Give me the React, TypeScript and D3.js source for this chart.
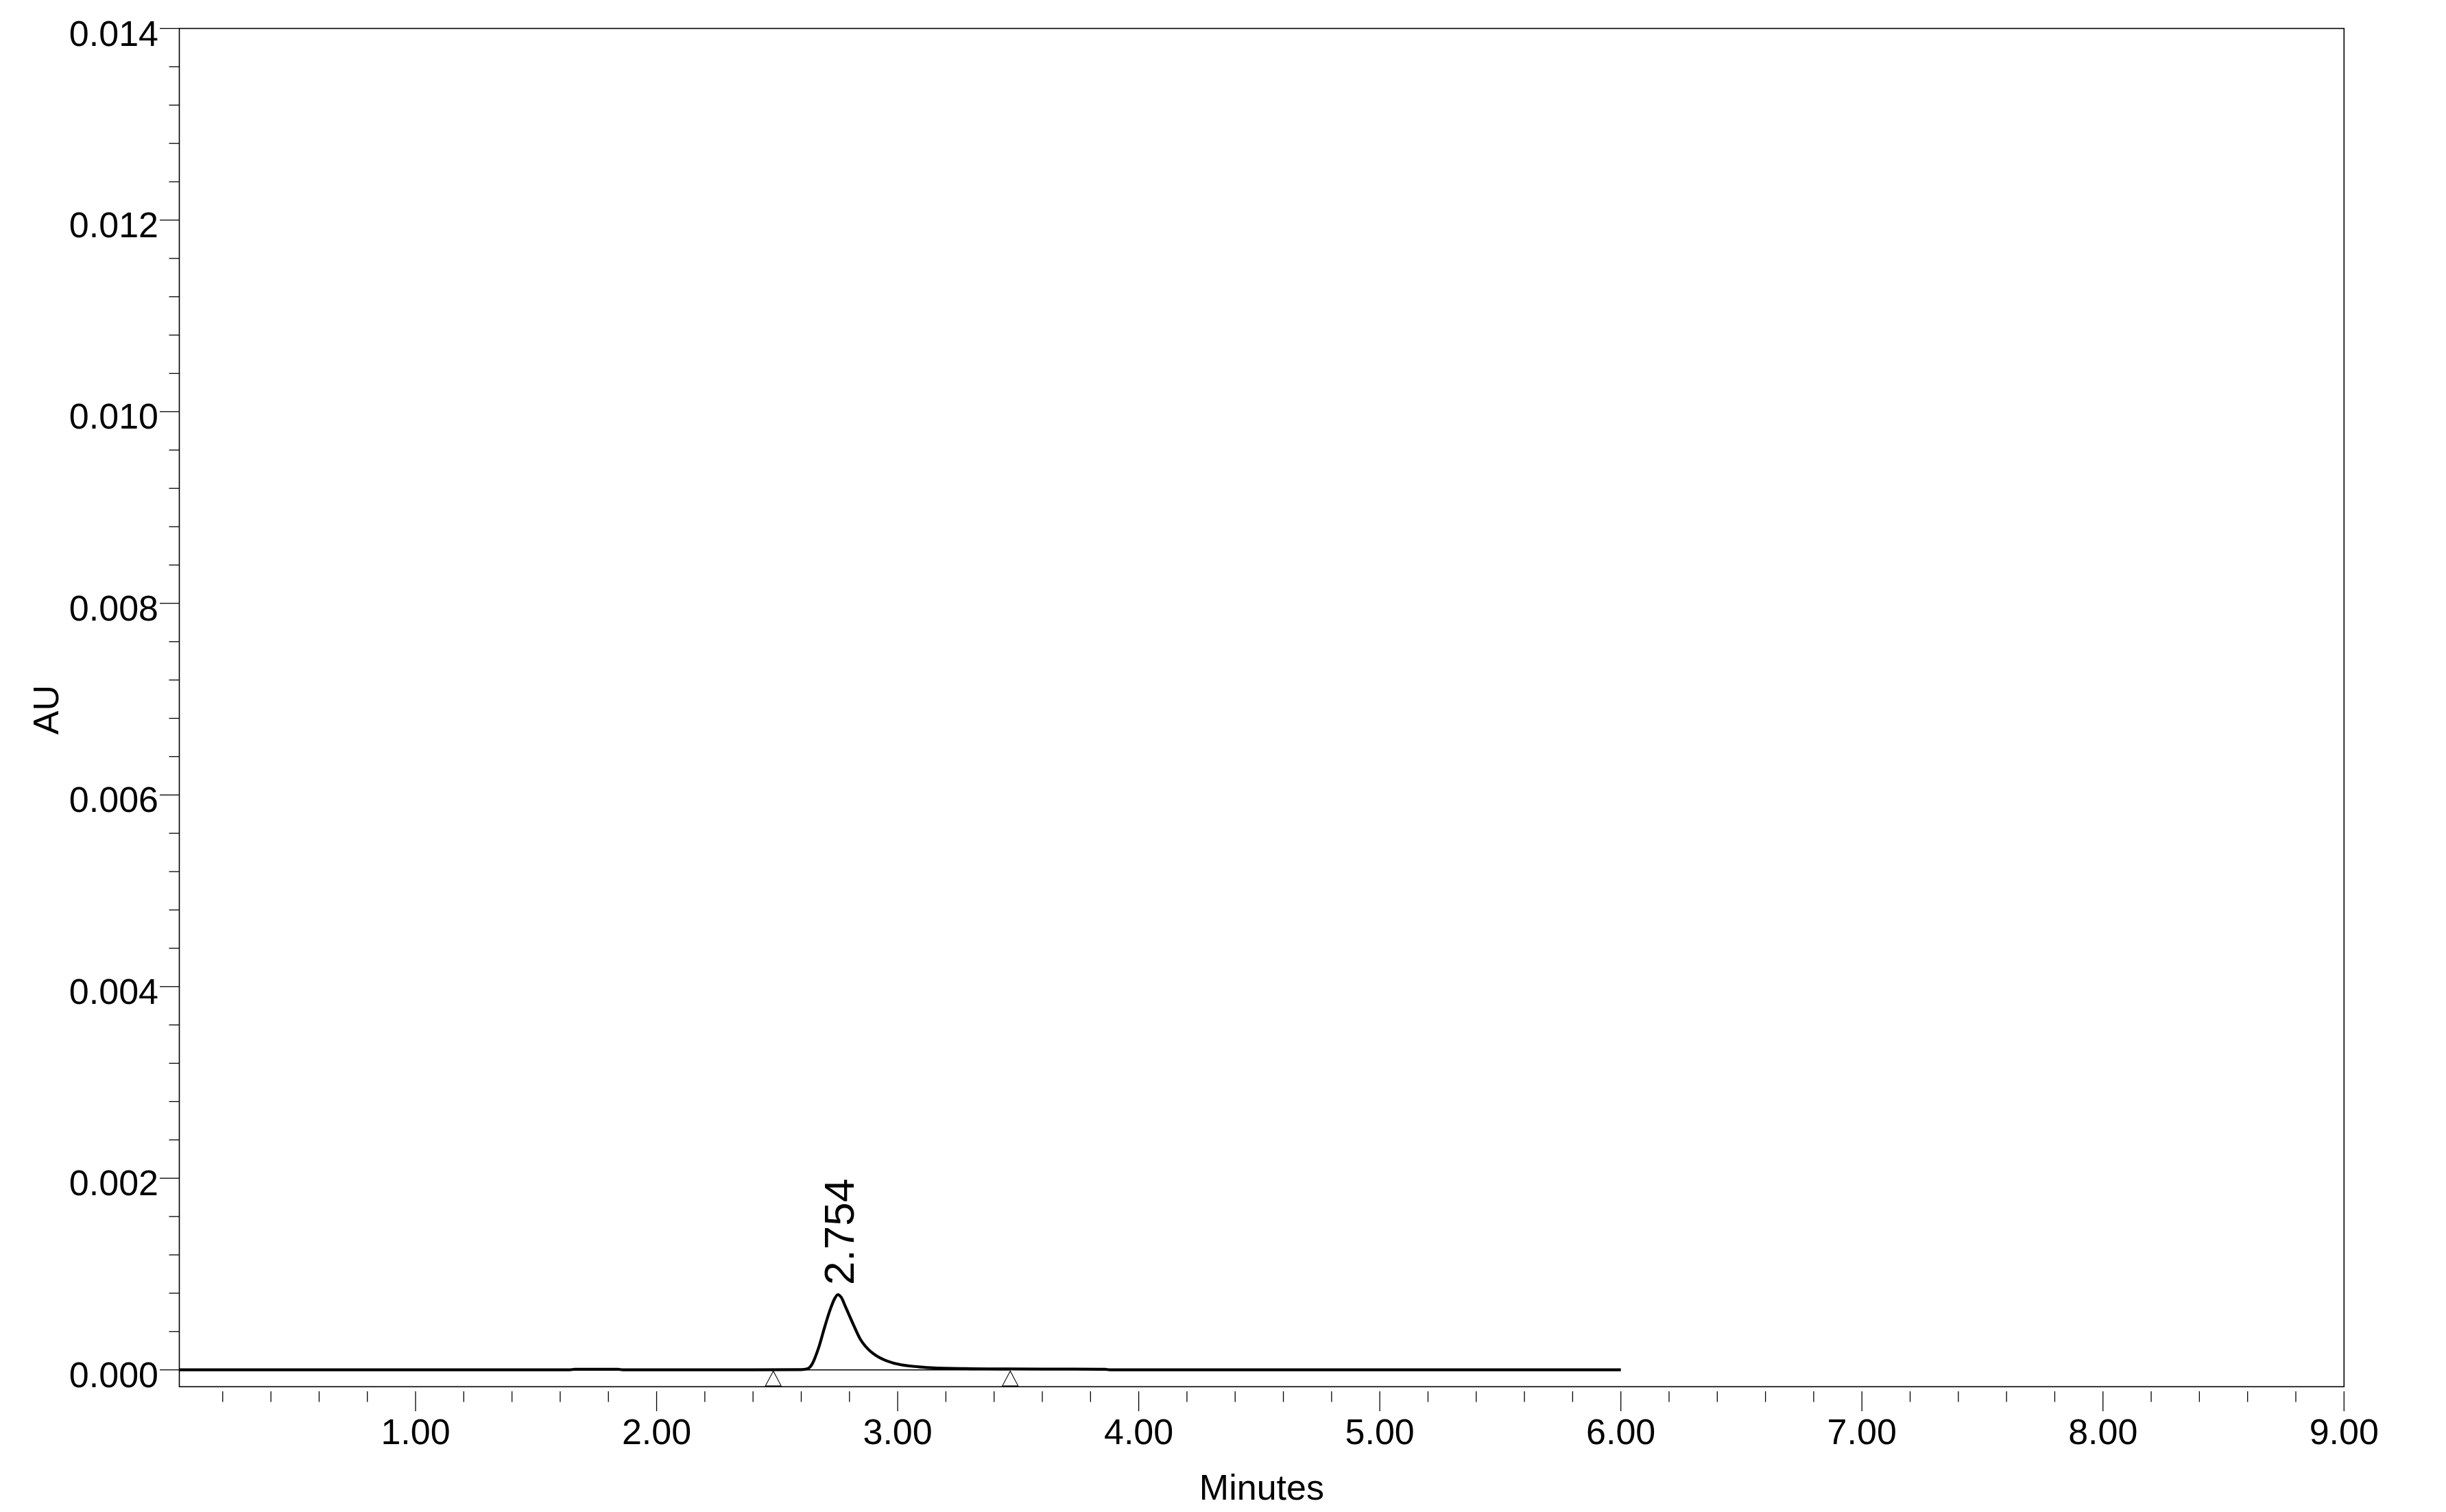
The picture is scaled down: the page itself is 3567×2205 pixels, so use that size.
import React from "react";
import * as d3 from "d3";

// Chromatogram trace (minutes, AU)
const times = [0.02, 1.0, 1.64, 1.66, 1.84, 1.86, 2.4, 2.6, 2.624, 2.645, 2.671, 2.699, 2.723, 2.74, 2.752, 2.765, 2.785, 2.818, 2.845, 2.875, 2.91, 2.946, 3.0, 3.088, 3.15, 3.305, 3.42, 3.6, 3.86, 3.88, 4.5, 6.0];
const values = [0, 0, 0, 0.000006, 0.000006, 0, 0, 0.000002, 0.00001, 0.00006, 0.000222, 0.000463, 0.00065, 0.00075, 0.000785, 0.00076, 0.00065, 0.000463, 0.00032, 0.000222, 0.00015, 0.000103, 0.00006, 0.0000315, 0.00002, 0.000012, 0.00001, 0.000008, 0.000006, 0, 0, 0];

// Peak annotation
const peakLabels = ["2.754"];
const peakTimes = [2.754];
const peakHeights = [0.000785];
const peakStart = [2.484];
const peakEnd = [3.467];

// Axis ticks
const xMajorTicks = [1, 2, 3, 4, 5, 6, 7, 8, 9];
const xTickLabels = ["1.00", "2.00", "3.00", "4.00", "5.00", "6.00", "7.00", "8.00", "9.00"];
const yMajorTicks = [0, 0.002, 0.004, 0.006, 0.008, 0.01, 0.012, 0.014];
const yTickLabels = ["0.000", "0.002", "0.004", "0.006", "0.008", "0.010", "0.012", "0.014"];

const xDomain = [0.02, 9.0];
const yDomain = [-0.000176, 0.014];

export default function App() {
  const W = 3567, H = 2205;
  const left = 261.5, right = 3418.3, top = 41.5, bottom = 2022.3;
  const x = d3.scaleLinear().domain(xDomain).range([left, right]);
  const y = d3.scaleLinear().domain(yDomain).range([bottom, top]);

  const xMinor = d3.range(1, 46).map((i) => i * 0.2).filter((v) => Math.abs(v - Math.round(v)) > 1e-6);
  const yMinor = d3.range(0, 36).map((i) => i * 0.0004).filter((v) => Math.abs(v / 0.002 - Math.round(v / 0.002)) > 1e-6 && v <= 0.014);

  const pts = times.map((t, i) => [t, values[i]] as [number, number]);
  const line = d3.line<[number, number]>().x((d) => x(d[0])).y((d) => y(d[1])).curve(d3.curveMonotoneX);

  const font = "'Liberation Sans', Arial, sans-serif";
  const fs = 52;

  return (
    <svg width={W} height={H} style={{ position: "absolute", left: 0, top: 0, background: "#fff" }} fontFamily={font}>
      <rect x={0} y={0} width={W} height={H} fill="#fff" />
      {/* frame */}
      <rect x={left} y={top} width={right - left} height={bottom - top} fill="none" stroke="#000" strokeWidth={1.6} />
      {/* y ticks */}
      {yMajorTicks.map((v, i) => (
        <g key={"ym" + i}>
          <line x1={left - 28.5} x2={left} y1={y(v)} y2={y(v)} stroke="#000" strokeWidth={1.3} />
          <text x={231} y={y(v) + 25} textAnchor="end" fontSize={fs}>{yTickLabels[i]}</text>
        </g>
      ))}
      {yMinor.map((v, i) => (
        <line key={"yn" + i} x1={left - 15} x2={left} y1={y(v)} y2={y(v)} stroke="#000" strokeWidth={1.3} />
      ))}
      {/* x ticks (detached below frame) */}
      {xMinor.map((v, i) => (
        <line key={"xn" + i} x1={x(v)} x2={x(v)} y1={2029} y2={2044.5} stroke="#000" strokeWidth={1.3} />
      ))}
      {xMajorTicks.map((v, i) => (
        <g key={"xm" + i}>
          <line x1={x(v)} x2={x(v)} y1={2029} y2={2058} stroke="#000" strokeWidth={1.3} />
          <text x={x(v)} y={2106} textAnchor="middle" fontSize={fs}>{xTickLabels[i]}</text>
        </g>
      ))}
      {/* axis titles */}
      <text x={(left + right) / 2} y={2187} textAnchor="middle" fontSize={fs}>Minutes</text>
      <text transform={`translate(85,1035) rotate(-90)`} textAnchor="middle" fontSize={fs}>AU</text>
      {/* integration baseline and markers */}
      {peakStart.map((s, i) => (
        <g key={"pk" + i}>
          <line x1={x(s)} x2={x(peakEnd[i])} y1={y(0)} y2={y(0)} stroke="#000" strokeWidth={1.4} />
          {[s, peakEnd[i]].map((t, j) => (
            <path key={j} d={`M${x(t)},${y(0) + 1.8} L${x(t) - 11.5},${bottom - 1.2} L${x(t) + 11.5},${bottom - 1.2} Z`} fill="#fff" stroke="#000" strokeWidth={1.1} />
          ))}
        </g>
      ))}
      {/* trace */}
      <path d={line(pts) || ""} fill="none" stroke="#000" strokeWidth={4.2} strokeLinejoin="round" />
      {/* peak labels */}
      {peakLabels.map((lab, i) => (
        <text key={"pl" + i} transform={`translate(${x(peakTimes[i]) + 22},${y(peakHeights[i]) - 14}) rotate(-90)`} textAnchor="start" fontSize={62}>{lab}</text>
      ))}
    </svg>
  );
}
